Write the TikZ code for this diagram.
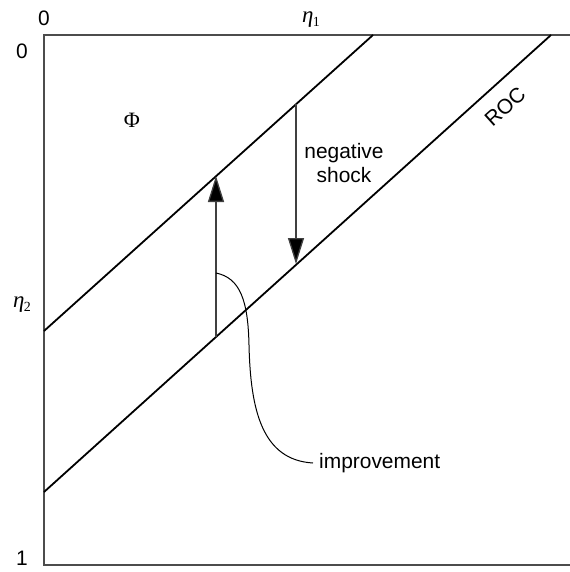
\documentclass[tikz,border=0pt]{standalone}
\usepackage{fontspec}
\setmainfont{Liberation Sans}
\newfontfamily\serifrm{Liberation Serif}
\usetikzlibrary{arrows.meta}
\newcommand{\etasub}[1]{{\serifrm\itshape\fontsize{23}{24}\selectfont η}\kern-0.5bp\raisebox{-3.5bp}{\serifrm\fontsize{14}{14}\selectfont #1}}
\begin{document}
\begin{tikzpicture}[x=1bp,y=-1bp,
  axis/.style={line width=1.4bp,draw=black!70},
  diag/.style={line width=1.8bp,draw=black},
  shock/.style={line width=1.3bp,draw=black!75,-{Triangle[length=26bp,width=16bp,fill=black]}},
  lead/.style={line width=1bp,draw=black},
  lab/.style={font=\fontsize{21}{25}\selectfont,inner sep=0pt},
  mlab/.style={inner sep=0pt}]
\useasboundingbox (0,0) rectangle (570,572);
% axes
\coordinate (tl) at (44,35);
\coordinate (tr) at (570,35);
\coordinate (bl) at (44,565);
\coordinate (br) at (570,565);
\draw[axis] (tr) -- (tl) -- (bl) -- (br);
% diagonals
\coordinate (u1) at (44,331);
\coordinate (u2) at (373,35);
\coordinate (l1) at (44,492);
\coordinate (l2) at (551,35);
\draw[diag] (u1) -- (u2);
\draw[diag] (l1) -- (l2);
% arrows
\coordinate (a1) at (216,337);
\coordinate (a2) at (216,176);
\coordinate (b1) at (296,104);
\coordinate (b2) at (296,264);
\draw[shock] (a1) -- (a2);
\draw[shock] (b1) -- (b2);
% labels
\node[lab] (z0) at (44,18) {0};
\node[lab] (z1) at (22,51) {0};
\node[lab] (one) at (22,558) {1};
\node[mlab] (e1) at (311,20) {\etasub{1}};
\node[mlab] (e2) at (22,305) {\etasub{2}};
\node[mlab,font=\serifrm\fontsize{22}{24}\selectfont] (phi) at (132,120) {Φ};
\node[lab,align=center] (neg) at (344,163) {negative\\shock};
\node[lab,rotate=42] (roc) at (505,107) {ROC};
\node[lab,anchor=west,inner xsep=6bp] (imp) at (313,463) {improvement};
\coordinate (c0) at (216,273);
\coordinate (c1) at (249,345);
\draw[lead] (c0) .. controls (240,278) and (248,300) .. (c1)
  .. controls (250.5,410) and (262,460) .. (imp.west);
\end{tikzpicture}
\end{document}
